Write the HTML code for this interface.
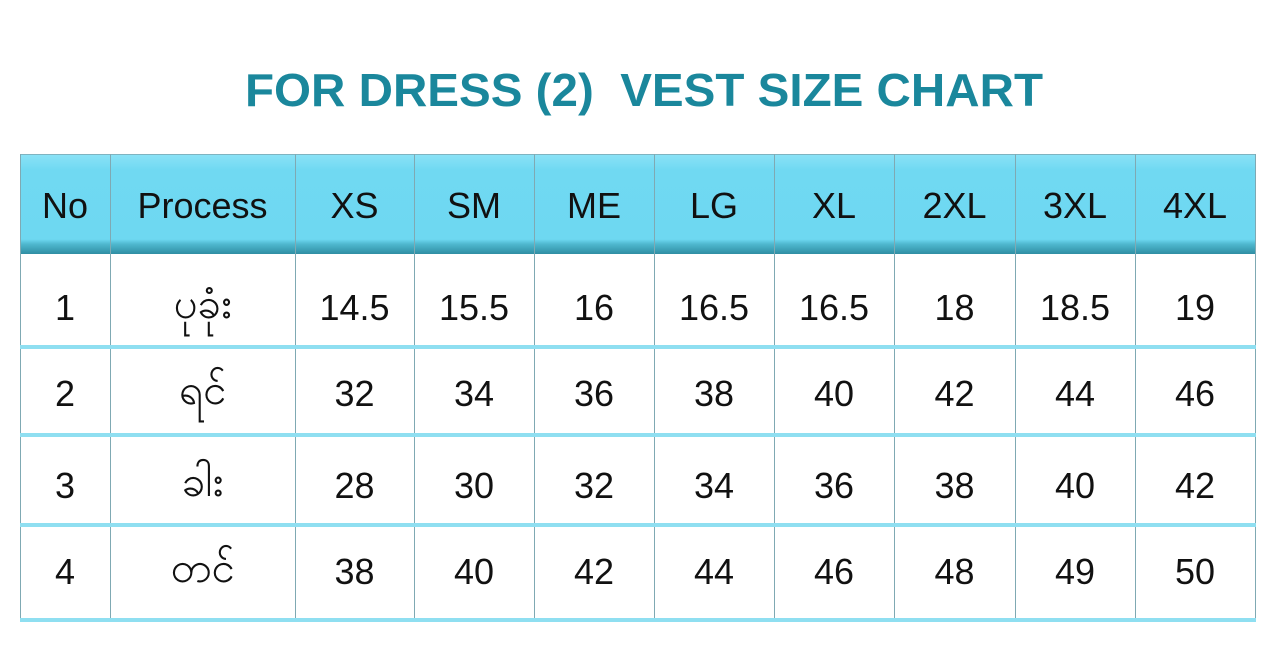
<!DOCTYPE html>
<html><head><meta charset="utf-8"><style>
body{margin:0;width:1280px;height:653px;background:#fff;position:relative;overflow:hidden;font-family:"Liberation Sans","Noto Sans CJK SC",sans-serif}
.c{position:absolute;display:flex;align-items:center;justify-content:center;color:#111;font-size:36px}
.v{position:absolute;background:#7fa9b3;width:1px}
.h{position:absolute;background:#8fdff1;height:4px;left:20px;width:1236px}
</style></head><body>
<svg style="position:absolute;left:0;top:0" width="1280" height="130"><text x="245" y="106" textLength="798" lengthAdjust="spacingAndGlyphs" font-family="Liberation Sans, sans-serif" font-weight="bold" font-size="46" fill="#1a879c" style="white-space:pre">FOR DRESS (2)  VEST SIZE CHART</text></svg>
<div style="position:absolute;left:20px;top:154px;width:1236px;height:99px;background:linear-gradient(#8ae2f6,#70d9f2 15%,#6ed8f1 85%,#4fb8cf 90%,#2f8ea3);border-top:1px solid #7fb3c0"></div>
<div id="t"></div>
<script>
const headers=["No","Process","XS","SM","ME","LG","XL","2XL","3XL","4XL"];
const rowNo=["1","2","3","4"];
const processes=["ပုခုံး","ရင်","ခါး","တင်"];
const valuesXS=["14.5","32","28","38"];
const valuesSM=["15.5","34","30","40"];
const valuesME=["16","36","32","42"];
const valuesLG=["16.5","38","34","44"];
const valuesXL=["16.5","40","36","46"];
const values2XL=["18","42","38","48"];
const values3XL=["18.5","44","40","49"];
const values4XL=["19","46","42","50"];
const cols=[20,110,295,414,534,654,774,894,1015,1135,1255];
const rowEdges=[253,347,435,525,620];
const rowShift=[8,1,4,-3];
const t=document.getElementById('t');
function cell(txt,x0,x1,y0,y1,name,fs){const d=document.createElement('div');d.className='c';


d.style.left=x0+'px';d.style.width=(x1-x0)+'px';d.style.top=y0+'px';d.style.height=(y1-y0)+'px';if(fs)d.style.fontSize=fs;d.textContent=txt;t.appendChild(d);}
headers.forEach((h,i)=>cell(h,cols[i],cols[i+1],166,245,'header-'+h.toLowerCase()));
const cols2=[rowNo,processes,valuesXS,valuesSM,valuesME,valuesLG,valuesXL,values2XL,values3XL,values4XL];
for(let r=0;r<4;r++)for(let c=0;c<10;c++)cell(cols2[c][r],cols[c],cols[c+1],rowEdges[r]+(r?4:0)+rowShift[r],rowEdges[r+1]+rowShift[r],'cell-r'+(r+1)+'-'+headers[c].toLowerCase(),c==1?'42px':null);
cols.forEach((x,i)=>{const v=document.createElement('div');v.className='v';


v.style.left=x+'px';v.style.top='154px';v.style.height='468px';t.appendChild(v);});
rowEdges.slice(1).forEach(y=>{const h=document.createElement('div');h.className='h';


h.style.top=(y-2)+'px';t.appendChild(h);});
</script>
</body></html>
